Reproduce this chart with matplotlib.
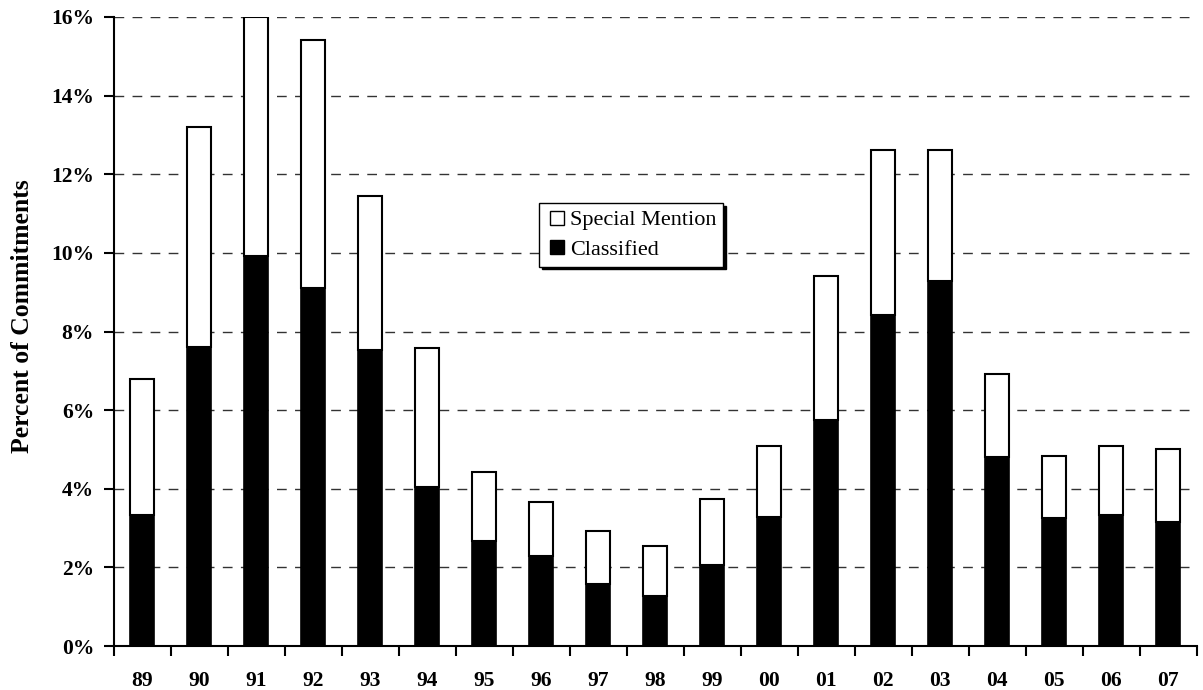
import matplotlib
matplotlib.use("Agg")
import matplotlib.pyplot as plt
import numpy as np
from matplotlib.ticker import FixedLocator, FuncFormatter
from matplotlib.lines import Line2D

years = ["89", "90", "91", "92", "93", "94", "95", "96", "97", "98",
         "99", "00", "01", "02", "03", "04", "05", "06", "07"]
classified = [3.33, 7.61, 9.92, 9.11, 7.54, 4.05, 2.67, 2.28, 1.58, 1.27,
              2.07, 3.27, 5.75, 8.42, 9.29, 4.81, 3.26, 3.33, 3.15]
total = [6.79, 13.20, 16.00, 15.41, 11.45, 7.57, 4.43, 3.66, 2.93, 2.55,
         3.74, 5.09, 9.41, 12.62, 12.62, 6.92, 4.83, 5.09, 5.01]
special_mention = [t - c for t, c in zip(total, classified)]
yticks = [0, 2, 4, 6, 8, 10, 12, 14, 16]

plt.rcParams['font.family'] = ['Liberation Serif', 'DejaVu Serif']

fig = plt.figure(figsize=(12.03, 6.9), dpi=100)
ax = fig.add_axes([113.5 / 1203, 1 - 646 / 690, 1083 / 1203, 629 / 690])

x = np.arange(len(years))
w = 0.42
ax.bar(x, classified, width=w, color='black', edgecolor='black',
       linewidth=1.2, label='Classified', zorder=3)
ax.bar(x, special_mention, width=w, bottom=classified, color='white',
       edgecolor='black', linewidth=1.5, label='Special Mention', zorder=3)

ax.set_xlim(-0.5, len(years) - 0.5)
ax.set_ylim(0, 16)
ax.set_yticks(yticks)
ax.yaxis.set_major_formatter(FuncFormatter(lambda v, p: f"{int(round(v))}%"))
for v in yticks[1:]:
    ax.axhline(v, color='#333333', linewidth=1.0, dashes=(7, 6), zorder=1)

ax.set_xticks(x)
ax.set_xticklabels(years)
ax.xaxis.set_minor_locator(FixedLocator(np.arange(len(years) + 1) - 0.5))
ax.tick_params(axis='x', which='major', length=0, pad=18, labelsize=15.5)
ax.tick_params(axis='x', which='minor', length=7, width=1.5, direction='out')
ax.tick_params(axis='y', which='major', length=7, width=1.5, direction='out',
               labelsize=15.5, pad=7)
for lab in ax.get_xticklabels() + ax.get_yticklabels():
    lab.set_fontweight('bold')

ax.spines['top'].set_visible(False)
ax.spines['right'].set_visible(False)
ax.spines['left'].set_linewidth(1.5)
ax.spines['bottom'].set_linewidth(1.5)

ax.set_ylabel('Percent of Commitments', fontsize=18.5, fontweight='bold')
ax.yaxis.set_label_coords((34 - 113.5) / 1083, (646 - 316) / 629)

handles = [
    Line2D([], [], linestyle='none', marker='s', markersize=9.4,
           markerfacecolor='white', markeredgecolor='black', markeredgewidth=1.0),
    Line2D([], [], linestyle='none', marker='s', markersize=9.4,
           markerfacecolor='black', markeredgecolor='black', markeredgewidth=1.0),
]
labels = ['Special Mention', 'Classified']
leg = ax.legend(handles, labels, loc='upper left', bbox_to_anchor=(0.393, 0.704),
                borderaxespad=0, fontsize=16, frameon=True, fancybox=False,
                shadow={'facecolor': 'black', 'edgecolor': 'black', 'alpha': 1.0},
                handlelength=1.05, handletextpad=0.05,
                borderpad=0.3, labelspacing=0.4)
leg.get_frame().set_edgecolor('black')
leg.get_frame().set_linewidth(1.0)
leg.set_zorder(5)

fig.savefig('out.png', dpi=100)
